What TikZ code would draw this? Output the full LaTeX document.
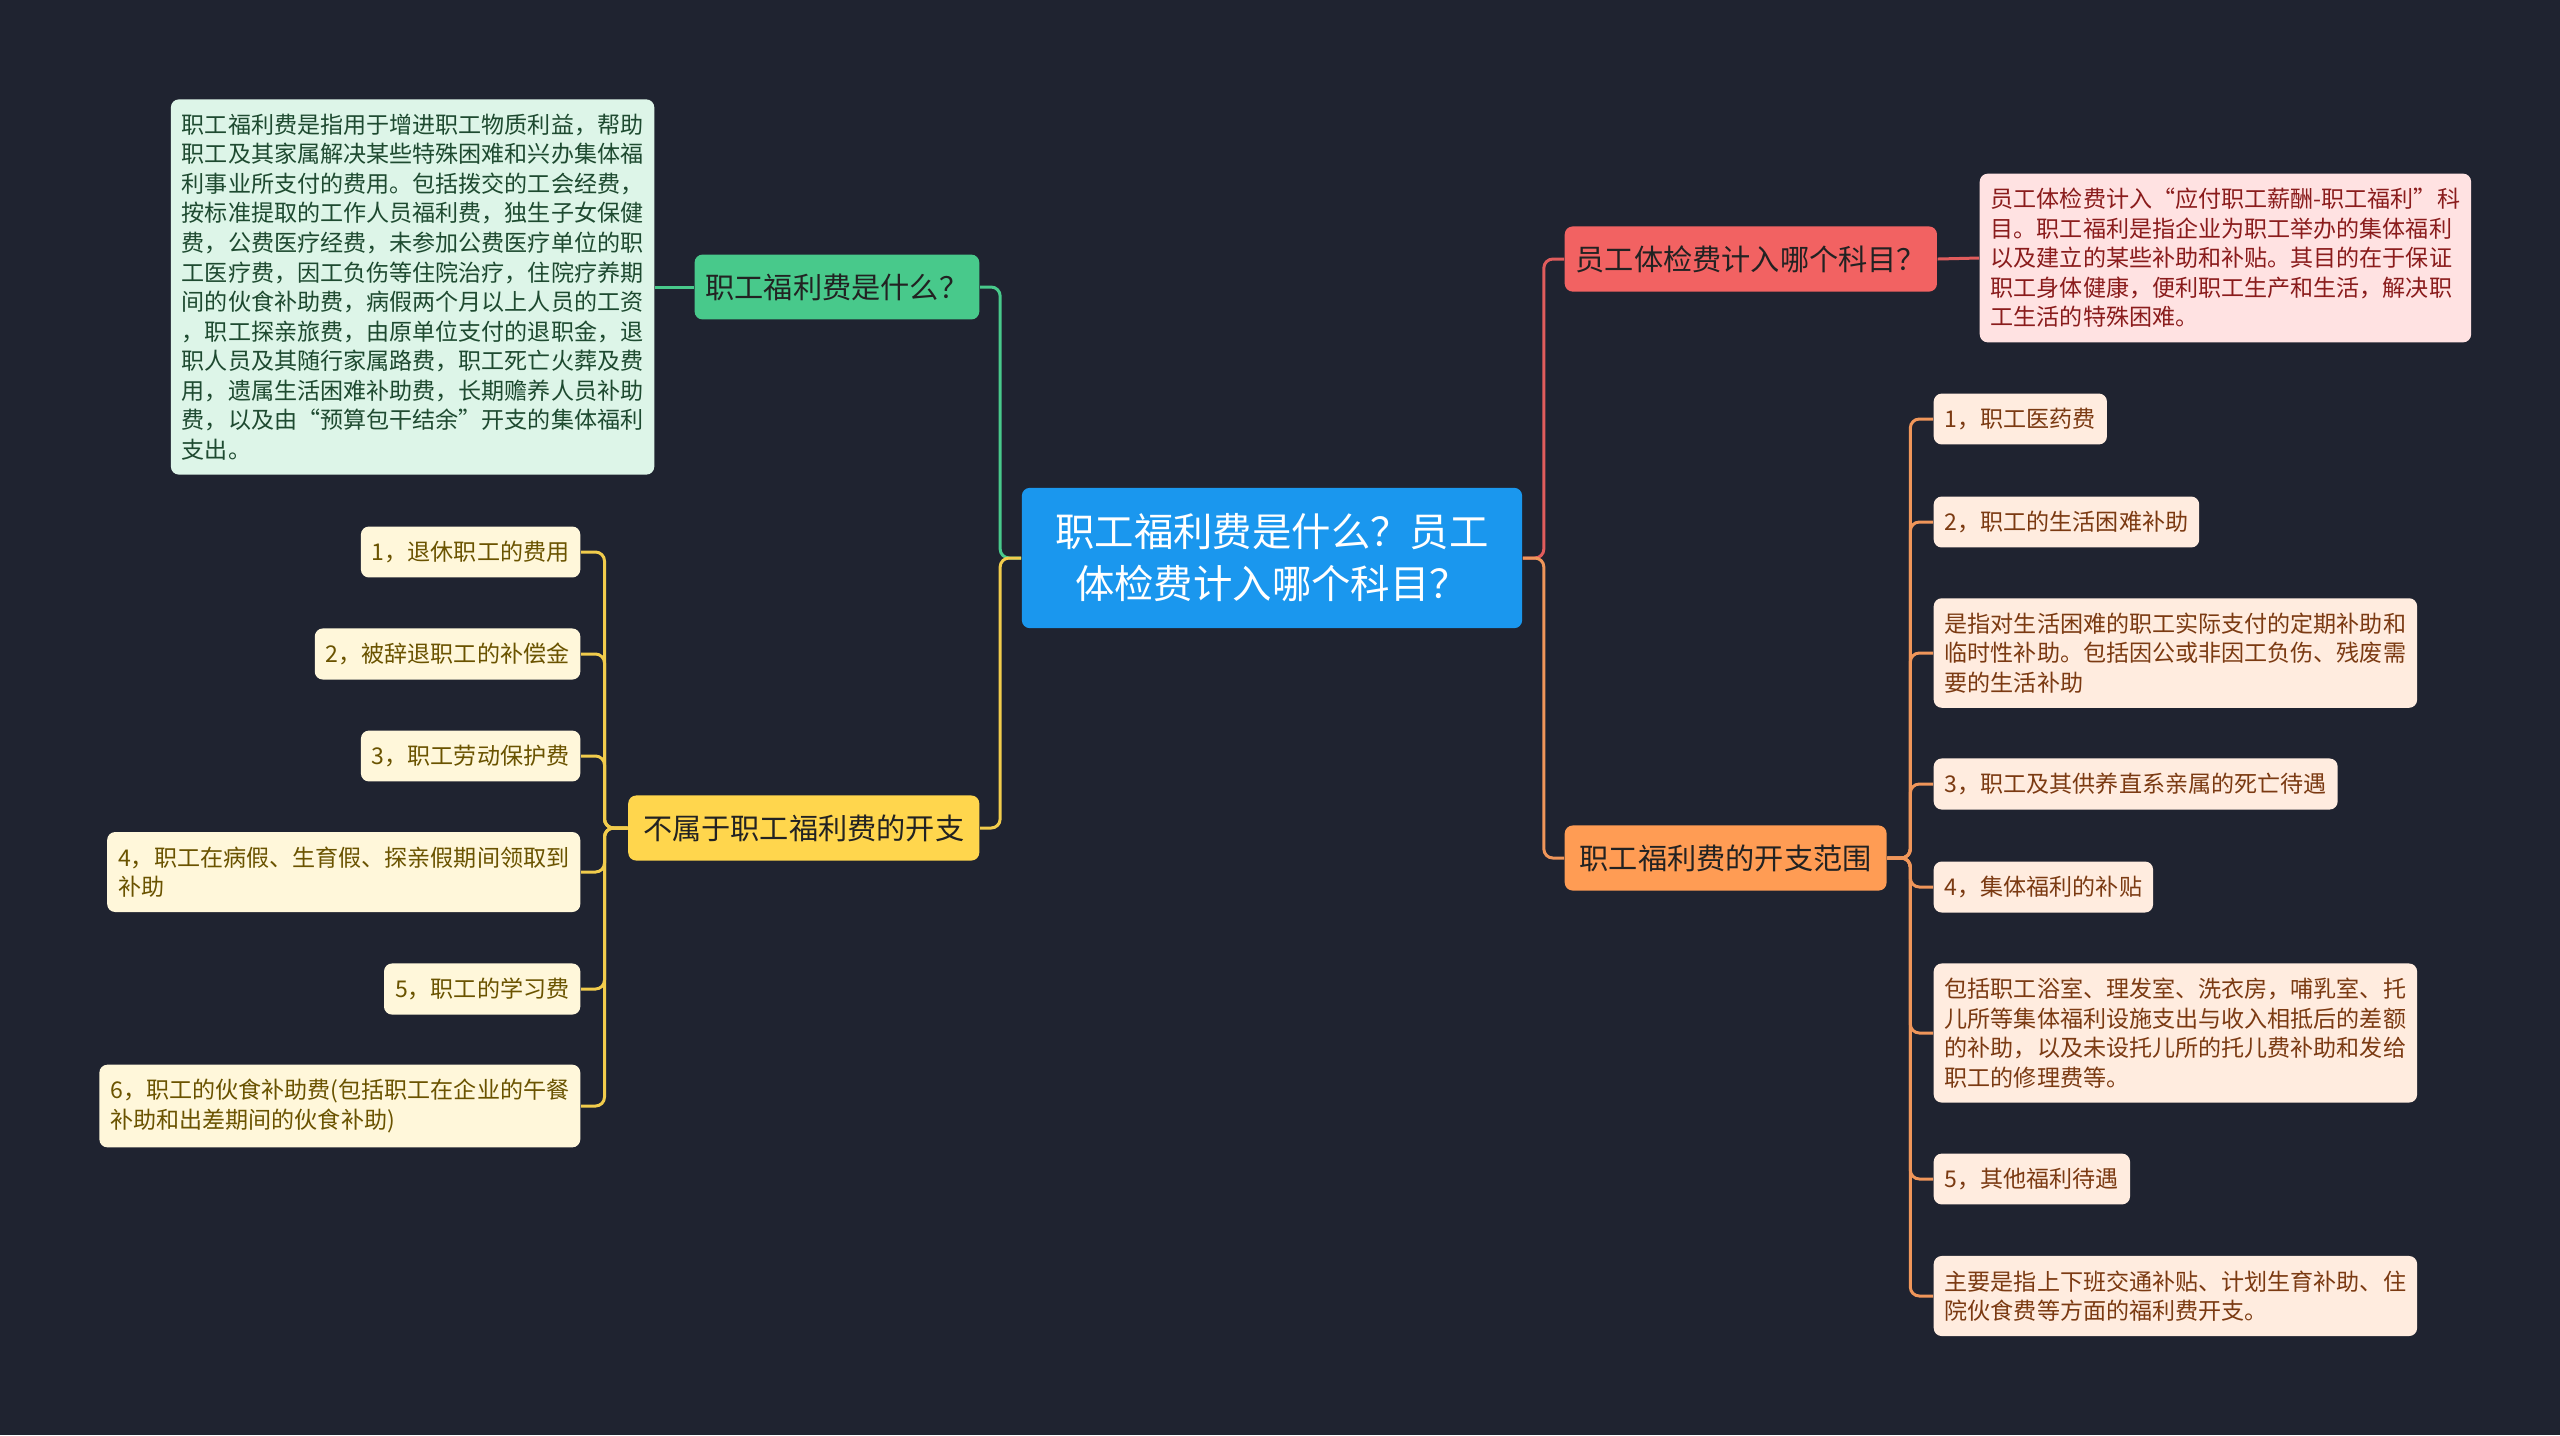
\documentclass[tikz,border=0pt]{standalone}
\usepackage{fontspec}
\setmainfont{Noto Sans CJK SC}
\definecolor{bg}{HTML}{1F2330}
\definecolor{rootblue}{HTML}{1A97EE}
\definecolor{grn}{HTML}{48C98B}
\definecolor{grnfill}{HTML}{DDF5E8}
\definecolor{grntext}{HTML}{1E4A30}
\definecolor{yel}{HTML}{FFD64D}
\definecolor{yelline}{HTML}{F2CC4C}
\definecolor{yelfill}{HTML}{FFF7DA}
\definecolor{yeltext}{HTML}{6A5300}
\definecolor{rd}{HTML}{F26262}
\definecolor{rdline}{HTML}{E05C5C}
\definecolor{rdfill}{HTML}{FFE2E2}
\definecolor{rdtext}{HTML}{8A1C1C}
\definecolor{org}{HTML}{FF9C54}
\definecolor{orgline}{HTML}{F0965A}
\definecolor{orgfill}{HTML}{FFECDF}
\definecolor{orgtext}{HTML}{7B3A12}
\definecolor{dark}{HTML}{222222}
\tikzset{
  rootbox/.style={fill=rootblue, text=white, rounded corners=0.08cm, align=center,
    minimum width=5cm, inner ysep=0.26cm, font=\fontsize{11.2}{14.8}\selectfont},
  topic/.style={rounded corners=0.08cm, text=dark, inner xsep=0.15cm, inner ysep=0.19cm,
    font=\fontsize{8.3}{10}\selectfont},
  leaf/.style={rounded corners=0.08cm, align=left, inner xsep=0.11cm, inner ysep=0.145cm,
    font=\fontsize{6.56}{8.4}\selectfont},
  link/.style={line width=0.85pt, rounded corners=0.09cm},
}
\begin{document}
\begin{tikzpicture}[x=0.01cm, y=-0.01cm]
\useasboundingbox (0,0) rectangle (2560,1435);
\fill[bg] (0,0) rectangle (2560,1435);
% centre
\node[rootbox] (root) at (1272,558) {职工福利费是什么？员工\\体检费计入哪个科目？};
% left side
\node[topic, fill=grn, anchor=east, inner xsep=0.11cm] (what) at (980,287) {职工福利费是什么？};
\node[leaf, fill=grnfill, text=grntext, anchor=east] (whatnote) at (655,287)
 {职工福利费是指用于增进职工物质利益，帮助\\职工及其家属解决某些特殊困难和兴办集体福\\利事业所支付的费用。包括拨交的工会经费，\\按标准提取的工作人员福利费，独生子女保健\\费，公费医疗经费，未参加公费医疗单位的职\\工医疗费，因工负伤等住院治疗，住院疗养期\\间的伙食补助费，病假两个月以上人员的工资\\，职工探亲旅费，由原单位支付的退职金，退\\职人员及其随行家属路费，职工死亡火葬及费\\用，遗属生活困难补助费，长期赡养人员补助\\费，以及由“预算包干结余”开支的集体福利\\支出。};
\node[topic, fill=yel, anchor=east] (notpart) at (980,828) {不属于职工福利费的开支};
\node[leaf, fill=yelfill, text=yeltext, anchor=east] (np1) at (581,552) {1，退休职工的费用};
\node[leaf, fill=yelfill, text=yeltext, anchor=east] (np2) at (581,654) {2，被辞退职工的补偿金};
\node[leaf, fill=yelfill, text=yeltext, anchor=east] (np3) at (581,756) {3，职工劳动保护费};
\node[leaf, fill=yelfill, text=yeltext, anchor=east] (np4) at (581,872) {4，职工在病假、生育假、探亲假期间领取到\\补助};
\node[leaf, fill=yelfill, text=yeltext, anchor=east] (np5) at (581,989) {5，职工的学习费};
\node[leaf, fill=yelfill, text=yeltext, anchor=east] (np6) at (581,1106) {6，职工的伙食补助费(包括职工在企业的午餐\\补助和出差期间的伙食补助)};
% right side
\node[topic, fill=rd, anchor=west, inner xsep=0.11cm] (exam) at (1564,259) {员工体检费计入哪个科目？};
\node[leaf, fill=rdfill, text=rdtext, anchor=west] (examnote) at (1979,258)
 {员工体检费计入“应付职工薪酬-职工福利”科\\目。职工福利是指企业为职工举办的集体福利\\以及建立的某些补助和补贴。其目的在于保证\\职工身体健康，便利职工生产和生活，解决职\\工生活的特殊困难。};
\node[topic, fill=org, anchor=west] (range) at (1564,858) {职工福利费的开支范围};
\node[leaf, fill=orgfill, text=orgtext, anchor=west] (r1) at (1933,419) {1，职工医药费};
\node[leaf, fill=orgfill, text=orgtext, anchor=west] (r2) at (1933,522) {2，职工的生活困难补助};
\node[leaf, fill=orgfill, text=orgtext, anchor=west] (r3) at (1933,653) {是指对生活困难的职工实际支付的定期补助和\\临时性补助。包括因公或非因工负伤、残废需\\要的生活补助};
\node[leaf, fill=orgfill, text=orgtext, anchor=west] (r4) at (1933,784) {3，职工及其供养直系亲属的死亡待遇};
\node[leaf, fill=orgfill, text=orgtext, anchor=west] (r5) at (1933,887) {4，集体福利的补贴};
\node[leaf, fill=orgfill, text=orgtext, anchor=west] (r6) at (1933,1033) {包括职工浴室、理发室、洗衣房，哺乳室、托\\儿所等集体福利设施支出与收入相抵后的差额\\的补助，以及未设托儿所的托儿费补助和发给\\职工的修理费等。};
\node[leaf, fill=orgfill, text=orgtext, anchor=west] (r7) at (1933,1179) {5，其他福利待遇};
\node[leaf, fill=orgfill, text=orgtext, anchor=west] (r8) at (1933,1296) {主要是指上下班交通补贴、计划生育补助、住\\院伙食费等方面的福利费开支。};
% connectors
\draw[link, grn] (root.west) -- ++(-21,0) |- (what.east);
\draw[link, yelline] (root.west) -- ++(-21,0) |- (notpart.east);
\draw[link, grn] (what.west) -- (whatnote.east);
\foreach \n in {np1,np2,np3,np4,np5,np6}
  \draw[link, yelline] (notpart.west) -- ++(-23,0) |- (\n.east);
\draw[link, rdline] (root.east) -- ++(21,0) |- (exam.west);
\draw[link, orgline] (root.east) -- ++(21,0) |- (range.west);
\draw[link, rdline] (exam.east) -- (examnote.west);
\foreach \n in {r1,r2,r3,r4,r5,r6,r7,r8}
  \draw[link, orgline] (range.east) -- ++(23,0) |- (\n.west);
\end{tikzpicture}
\end{document}
